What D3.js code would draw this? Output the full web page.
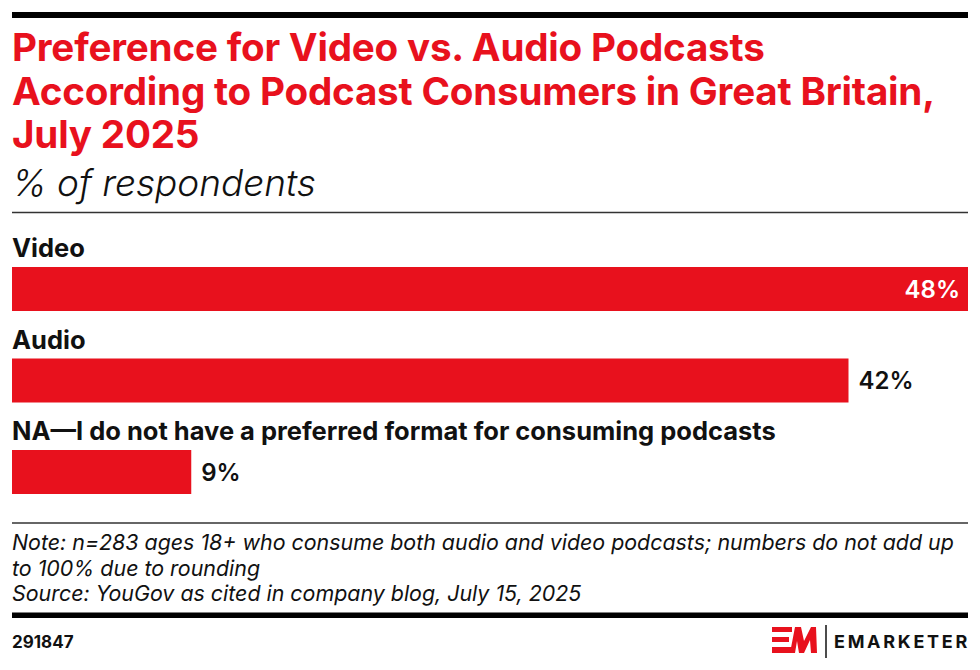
<!DOCTYPE html>
<html lang="en">
<head>
  <meta charset="UTF-8">
  <title>Preference for Video vs. Audio Podcasts</title>
  <script src="https://d3js.org/d3.v7.min.js"></script>
  <style>
    body { margin: 0; background: #fff; }
    svg { display: block; font-family: Inter, "Open Sans", sans-serif; }
  </style>
</head>
<body>
  <div id="chart"></div>
  <script>
    const categories = ["Video", "Audio", "NA\u2014I do not have a preferred format for consuming podcasts"];
    const values = [48, 42, 9];
    const titleLines = [
      "Preference for Video vs. Audio Podcasts",
      "According to Podcast Consumers in Great Britain,",
      "July 2025"
    ];
    const subtitle = "% of respondents";
    const noteLines = [
      "Note: n=283 ages 18+ who consume both audio and video podcasts; numbers do not add up",
      "to 100% due to rounding",
      "Source: YouGov as cited in company blog, July 15, 2025"
    ];
    const chartId = "291847";

    const width = 980, height = 670;
    const left = 12, right = 968;
    const red = "#e8111d";

    const svg = d3.select("#chart").append("svg")
      .attr("width", width).attr("height", height);

    // top rule
    svg.append("rect").attr("x", left).attr("y", 12).attr("width", right - left).attr("height", 6).attr("fill", "#000");

    // title
    svg.append("g").selectAll("text")
      .data(titleLines)
      .join("text")
      .attr("x", left)
      .attr("y", (d, i) => 61 + i * 43.5)
      .attr("fill", red)
      .attr("font-size", 38.6)
      .attr("font-weight", 700)
      .attr("letter-spacing", -0.2)
      .text(d => d);

    svg.append("text")
      .attr("x", left).attr("y", 196)
      .attr("font-size", 37)
      .attr("font-style", "italic")
      .attr("font-weight", 300)
      .attr("fill", "#111")
      .text(subtitle);

    svg.append("line")
      .attr("x1", left).attr("x2", right).attr("y1", 212.5).attr("y2", 212.5)
      .attr("stroke", "#333").attr("stroke-width", 1.5);

    // bars
    const x = d3.scaleLinear().domain([0, d3.max(values)]).range([left, right]);
    const y = d3.scaleBand().domain(categories).range([267, 267 + 3 * 91.5]).paddingInner(0).paddingOuter(0);
    const barH = 44;

    const rows = svg.append("g").selectAll("g")
      .data(categories.map((c, i) => ({ c, v: values[i] })))
      .join("g");

    rows.append("text")
      .attr("x", left)
      .attr("y", d => y(d.c) - 10)
      .attr("font-size", 25.5)
      .attr("font-weight", 700)
      .attr("fill", "#111")
      .text(d => d.c);

    rows.append("rect")
      .attr("x", x(0))
      .attr("y", d => y(d.c))
      .attr("width", d => x(d.v) - x(0))
      .attr("height", barH)
      .attr("fill", red);

    rows.append("text")
      .attr("x", d => d.v === d3.max(values) ? x(d.v) - 8 : x(d.v) + 10)
      .attr("y", d => y(d.c) + barH / 2 + 8.5)
      .attr("text-anchor", d => d.v === d3.max(values) ? "end" : "start")
      .attr("font-size", 24)
      .attr("font-weight", 600)
      .attr("fill", d => d.v === d3.max(values) ? "#fff" : "#111")
      .text(d => d.v + "%");

    // footer
    svg.append("line")
      .attr("x1", left).attr("x2", right).attr("y1", 523).attr("y2", 523)
      .attr("stroke", "#333").attr("stroke-width", 1.5);

    svg.append("g").selectAll("text")
      .data(noteLines)
      .join("text")
      .attr("x", left)
      .attr("y", (d, i) => 550 + i * 25.5)
      .attr("font-size", 21.4)
      .attr("font-style", "italic")
      .attr("fill", "#111")
      .text(d => d);

    svg.append("rect").attr("x", left).attr("y", 612.5).attr("width", right - left).attr("height", 5.5).attr("fill", "#000");

    svg.append("text")
      .attr("x", left).attr("y", 648)
      .attr("font-size", 17)
      .attr("font-weight", 700)
      .attr("fill", "#111")
      .text(chartId);

    // logo
    const logo = svg.append("g");
    logo.append("rect").attr("x", 772).attr("y", 627).attr("width", 20).attr("height", 5).attr("fill", red);
    logo.append("rect").attr("x", 772).attr("y", 637).attr("width", 17).attr("height", 5).attr("fill", red);
    logo.append("rect").attr("x", 772).attr("y", 647).attr("width", 20).attr("height", 6).attr("fill", red);
    logo.append("path")
      .attr("d", "M790,653 L795,627 L801,627 L804,641 L811,627 L816,627 L817,653 L811,653 L810,640 L804,653 L799,653 L797,641 L795,653 Z")
      .attr("fill", red);
    logo.append("line").attr("x1", 826).attr("x2", 826).attr("y1", 625).attr("y2", 658)
      .attr("stroke", "#111").attr("stroke-width", 1.5);
    logo.append("text")
      .attr("x", 834).attr("y", 648)
      .attr("font-size", 18)
      .attr("font-weight", 700)
      .attr("letter-spacing", 2.7)
      .attr("fill", "#111")
      .text("EMARKETER");
  </script>
</body>
</html>
